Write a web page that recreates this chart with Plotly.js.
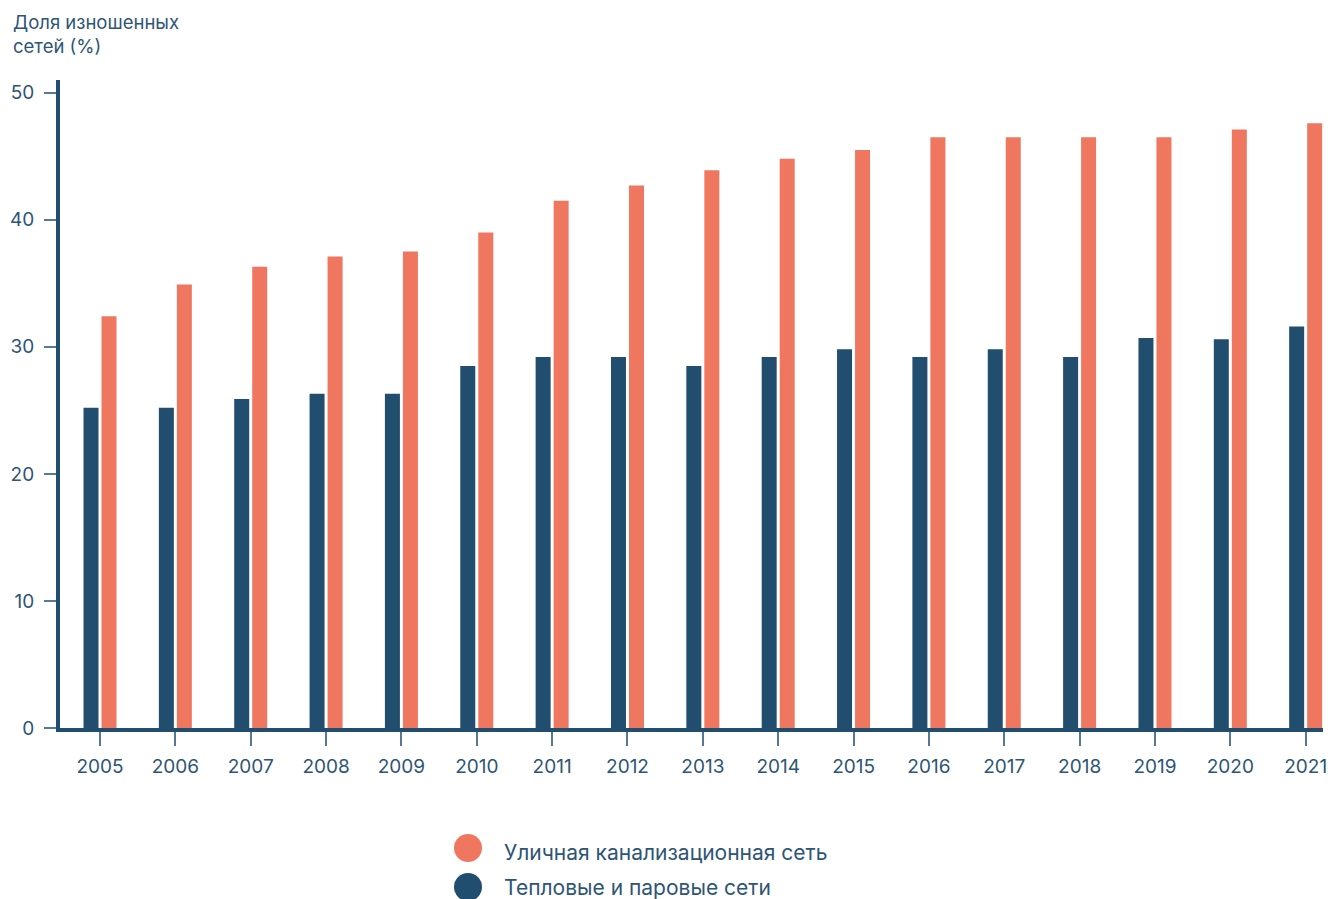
<!DOCTYPE html>
<html>
<head>
<meta charset="utf-8">
<script src="https://cdn.plot.ly/plotly-3.0.1.min.js"></script>
<style>html,body{margin:0;padding:0;background:#fff;}#chart{width:1330px;height:899px;}</style>
</head>
<body>
<div id="chart"></div>
<script>
const years = ['2005','2006','2007','2008','2009','2010','2011','2012','2013','2014','2015','2016','2017','2018','2019','2020','2021'];
const heatingNetworks = [25.2,25.2,25.9,26.3,26.3,28.5,29.2,29.2,28.5,29.2,29.8,29.2,29.8,29.2,30.7,30.6,31.6];
const sewerNetwork = [32.4,34.9,36.3,37.1,37.5,39.0,41.5,42.7,43.9,44.8,45.5,46.5,46.5,46.5,46.5,47.1,47.6];
const seriesNames = ['Уличная канализационная сеть','Тепловые и паровые сети'];
const yTitle = 'Доля изношенных<br>сетей (%)';

const DARK = '#214e6e';
const ORANGE = '#ef7760';
const TEXT = '#2d5575';
const TICK = '#55799a';
const FONT = 'Inter, Roboto, sans-serif';

const traces = [
  {type:'bar', x:years, y:heatingNetworks, name:seriesNames[1], marker:{color:DARK}, hoverinfo:'x+y'},
  {type:'bar', x:years, y:sewerNetwork, name:seriesNames[0], marker:{color:ORANGE}, hoverinfo:'x+y'}
];

const W = 1263, H = 648, L = 60, T = 80;
const px = v => (v - L) / W;
const py = v => (T + H - v) / H;

const layout = {
  width:1330, height:899, autosize:false,
  margin:{l:60, r:7, t:80, b:171, pad:0},
  paper_bgcolor:'#fff', plot_bgcolor:'#fff',
  font:{family:FONT, color:TEXT},
  showlegend:false,
  barmode:'group', bargap:0.522, bargroupgap:0.167,
  xaxis:{type:'category', range:[-0.531, 16.23], showline:true, linewidth:4, linecolor:DARK,
    ticks:'outside', ticklen:14, tickwidth:2, tickcolor:TICK, ticklabelstandoff:4,
    tickfont:{size:19, color:TEXT, family:FONT}, showgrid:false, zeroline:false, fixedrange:true},
  yaxis:{range:[0,51], dtick:10, tick0:0, showline:true, linewidth:4, linecolor:DARK,
    ticks:'outside', ticklen:12, tickwidth:2, tickcolor:TICK, ticklabelstandoff:6,
    tickfont:{size:19, color:TEXT, family:FONT}, showgrid:false, zeroline:false, fixedrange:true},
  annotations:[
    {xref:'paper', yref:'paper', x:px(11), y:py(9), xanchor:'left', yanchor:'top', align:'left',
     showarrow:false, text:yTitle, font:{size:18.5, color:TEXT, family:FONT}},
    {xref:'paper', yref:'paper', x:px(502), y:py(852), xanchor:'left', yanchor:'middle',
     showarrow:false, text:seriesNames[0], font:{size:21, color:TEXT, family:FONT}},
    {xref:'paper', yref:'paper', x:px(502), y:py(887), xanchor:'left', yanchor:'middle',
     showarrow:false, text:seriesNames[1], font:{size:21, color:TEXT, family:FONT}}
  ],
  shapes:[
    {type:'circle', xref:'paper', yref:'paper', x0:px(454), x1:px(482), y0:py(862), y1:py(834), fillcolor:ORANGE, line:{width:0}},
    {type:'circle', xref:'paper', yref:'paper', x0:px(454), x1:px(482), y0:py(901), y1:py(873), fillcolor:DARK, line:{width:0}}
  ]
};

Plotly.newPlot('chart', traces, layout, {displayModeBar:false, staticPlot:true});
</script>
</body>
</html>
